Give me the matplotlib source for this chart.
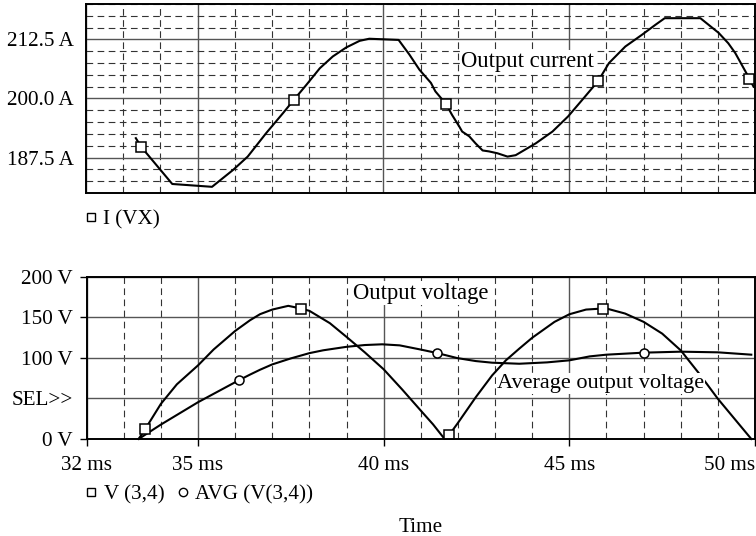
import matplotlib.pyplot as plt
from matplotlib.lines import Line2D

plt.rcParams['font.family'] = ['Liberation Serif', 'DejaVu Serif']

# output current I(VX), ms / A
i_t = [33.34, 33.49, 34.32, 35.39, 35.96, 36.35, 36.85, 37.30, 37.59, 37.93, 38.29,
       38.64, 39.00, 39.36, 39.62, 40.41, 40.70, 40.97, 41.28, 41.40, 41.68, 41.85,
       42.04, 42.12, 42.31, 42.48, 42.67, 42.84, 43.07, 43.34, 43.56, 44.10, 44.55,
       44.97, 45.35, 45.78, 46.07, 46.51, 46.96, 47.32, 47.57, 48.53, 49.02, 49.28,
       49.47, 49.85, 49.96]
i_val = [191.6, 189.7, 181.9, 181.3, 184.9, 187.7, 192.7, 196.9, 199.7, 202.9, 206.4,
         208.9, 210.8, 212.2, 212.65, 212.4, 209.3, 206.1, 203.3, 201.5, 198.9, 196.5,
         194.1, 193.0, 192.0, 190.5, 189.0, 188.8, 188.4, 187.7, 188.0, 190.5, 193.0,
         196.2, 199.7, 203.7, 207.5, 211.0, 213.5, 215.6, 217.0, 217.0, 213.9, 211.7,
         209.6, 204.2, 202.5]
i_mark_t = [33.49, 37.59, 41.68, 45.78, 49.85]
i_mark_val = [189.7, 199.7, 198.9, 203.7, 204.2]

# output voltage V(3,4)
v_t = [33.40, 33.58, 34.00, 34.43, 35.00, 35.42, 36.00, 36.40, 36.67, 37.00, 37.43,
       37.77, 38.00, 38.55, 39.00, 39.49, 40.00, 40.50, 41.00, 41.33, 41.64, 41.77,
       41.98, 42.48, 42.92, 43.29, 43.65, 44.00, 44.60, 45.00, 45.45, 45.90, 46.00,
       46.50, 47.00, 47.50, 48.00, 48.50, 49.00, 49.45, 49.90]
v_val = [0.0, 12.4, 43.4, 67.5, 90.9, 110.5, 133.4, 146.6, 154.1, 159.8, 164.4,
         161.1, 158.2, 143.0, 126.0, 107.0, 86.0, 61.0, 35.0, 18.0, 0.0, 5.4,
         18.6, 51.6, 78.5, 97.1, 111.5, 125.0, 144.6, 154.0, 159.8, 161.1, 161.1,
         154.9, 144.6, 130.1, 109.4, 80.5, 49.6, 24.8, 0.0]
v_mark_t = [33.58, 37.77, 41.77, 45.90]
v_mark_val = [12.4, 161.1, 5.4, 161.1]

# average output voltage AVG(V(3,4))
avg_t = [33.40, 34.00, 35.00, 36.09, 36.40, 36.67, 37.00, 37.50, 38.00, 38.37, 39.00,
         39.49, 39.96, 40.43, 41.01, 41.44, 41.98, 42.48, 42.92, 43.65, 44.40, 45.00,
         45.55, 46.00, 47.00, 48.00, 49.00, 49.90]
avg_val = [0.0, 17.8, 45.4, 72.3, 79.5, 85.5, 92.1, 99.5, 106.0, 109.5, 113.8,
           116.0, 116.9, 115.6, 110.3, 106.1, 99.9, 96.2, 94.2, 92.9, 94.6, 97.1,
           102.0, 104.1, 106.6, 107.8, 107.0, 104.1]
avg_mark_t = [36.09, 41.44, 47.00]
avg_mark_val = [72.3, 106.1, 106.6]

x_major = [32, 35, 40, 45, 50]
x_labels = ['32 ms', '35 ms', '40 ms', '45 ms', '50 ms']
i_ticks = [187.5, 200.0, 212.5]
i_labels = ['187.5 A', '200.0 A', '212.5 A']
v_ticks = [0, 50, 100, 150, 200]
v_labels = ['0 V', 'SEL>>', '100 V', '150 V', '200 V']

fig = plt.figure(figsize=(7.56, 5.36), dpi=100)
ax1 = fig.add_axes([0.1138, 0.640, 0.8849, 0.3525])
ax2 = fig.add_axes([0.1146, 0.181, 0.8841, 0.3022])

x_minor = [t for t in range(33, 50) if t % 5 != 0]
major_kw = dict(color='#555555', lw=1.0, ls='-')
minor_kw = dict(color='#333333', lw=0.8, ls=(0, (6, 4)))

# --- top panel
ax1.set_xlim(32, 50)
ax1.set_ylim(180, 220)
ax1.set_xticks(x_major)
ax1.set_xticks(x_minor, minor=True)
ax1.set_yticks(i_ticks)
ax1.set_yticks([180 + 2.5 * k for k in range(17) if (180 + 2.5 * k) not in i_ticks],
               minor=True)
ax1.set_yticklabels(i_labels)
ax1.tick_params(which='both', length=0, labelbottom=False, labelsize=15.2, pad=9)
ax1.grid(which='major', **major_kw)
ax1.grid(which='minor', **minor_kw)
ax1.plot(i_t, i_val, color='black', lw=1.5)
ax1.plot(i_mark_t, i_mark_val, ls='none', marker='s', ms=6.5, mfc='white', mec='black', mew=1.1)
ax1.text(42.1, 207.8, 'Output current', fontsize=16.3, va='center', ha='left',
         bbox=dict(facecolor='white', edgecolor='none', pad=1))
h1 = [Line2D([], [], ls='none', marker='s', ms=6, mfc='white', mec='black')]
ax1.legend(h1, ['I (VX)'], loc='upper left', bbox_to_anchor=(-0.015, -0.045),
           frameon=False, fontsize=15.2, handlelength=0.6, handletextpad=0.3,
           borderaxespad=0)

# --- bottom panel
ax2.set_xlim(32, 50)
ax2.set_ylim(0, 200)
ax2.set_xticks(x_major)
ax2.set_xticklabels(x_labels)
ax2.get_xticklabels()[-1].set_ha('right')
ax2.set_xticks(x_minor, minor=True)
ax2.set_yticks(v_ticks)
ax2.set_yticklabels(v_labels)
ax2.tick_params(which='major', direction='out', length=5, width=1, labelsize=15.2, pad=5)
ax2.tick_params(axis='x', which='major', pad=7)
ax2.tick_params(which='minor', length=0)
ax2.yaxis.get_major_ticks()[1].tick1line.set_visible(False)
ax2.grid(which='major', **major_kw)
ax2.grid(which='minor', axis='x', **minor_kw)
ax2.plot(v_t, v_val, color='black', lw=1.5, clip_on=False)
ax2.plot(avg_t, avg_val, color='black', lw=1.5)
ax2.plot(v_mark_t, v_mark_val, ls='none', marker='s', ms=6.5, mfc='white', mec='black', mew=1.1)
ax2.plot(avg_mark_t, avg_mark_val, ls='none', marker='o', ms=6.5, mfc='white', mec='black', mew=1.1)
ax2.text(39.17, 180, 'Output voltage', fontsize=16.3, va='center', ha='left',
         bbox=dict(facecolor='white', edgecolor='none', pad=1))
ax2.text(43.05, 68.6, 'Average output voltage', fontsize=16.0, va='center', ha='left',
         bbox=dict(facecolor='white', edgecolor='none', pad=1))
h2 = [Line2D([], [], ls='none', marker='s', ms=6, mfc='white', mec='black'),
      Line2D([], [], ls='none', marker='o', ms=6, mfc='white', mec='black')]
ax2.legend(h2, ['V (3,4)', 'AVG (V(3,4))'], loc='upper left', bbox_to_anchor=(-0.015, -0.23),
           frameon=False, fontsize=15.2, ncol=2, handlelength=0.6, handletextpad=0.3,
           columnspacing=0.55, borderaxespad=0)
ax2.set_xlabel('Time', fontsize=15.2, labelpad=31)

for ax in (ax1, ax2):
    ax.set_axisbelow(True)
    for s in ax.spines.values():
        s.set_linewidth(1.4)

fig.savefig('out.png', dpi=100)
